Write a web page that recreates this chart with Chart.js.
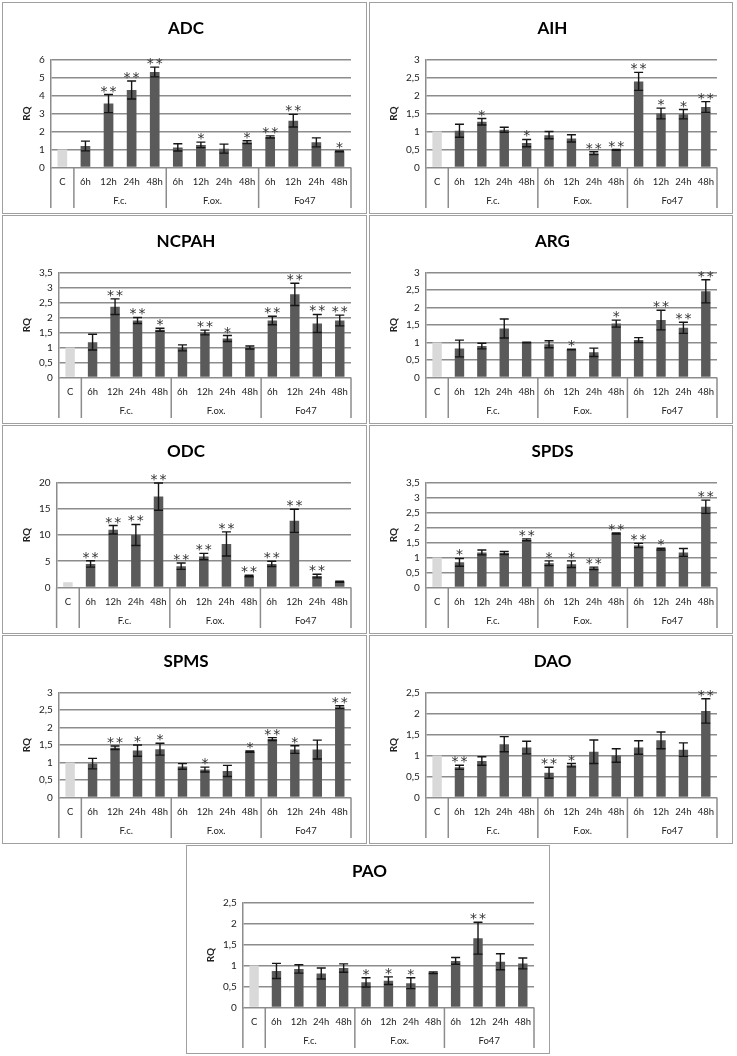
<!DOCTYPE html>
<html>
<head>
<meta charset="utf-8">
<script src="https://cdn.jsdelivr.net/npm/chart.js@4.4.1/dist/chart.umd.min.js"></script>
<style>
body { margin: 0; background: #fff; }
#page { position: relative; width: 737px; height: 1056px; }
.panel { position: absolute; border: 1.5px solid #a0a0a0; box-sizing: border-box; background: #fff; }
.panel canvas { display: block; }
</style>
</head>
<body>
<div id="page"></div>
<script>
// categories
const hours = ['C', '6h', '12h', '24h', '48h', '6h', '12h', '24h', '48h', '6h', '12h', '24h', '48h'];
const groups = ['F.c.', 'F.ox.', 'Fo47'];

// RQ means, error bars (null = none), significance marks
const adcRQ  = [1, 1.2, 3.55, 4.3, 5.3, 1.12, 1.26, 1.05, 1.41, 1.7, 2.6, 1.4, 0.9];
const adcErr = [null, 0.27, 0.5, 0.5, 0.27, 0.2, 0.15, 0.25, 0.08, 0.06, 0.35, 0.25, 0.03];
const adcSig = ['', '', '**', '**', '**', '', '*', '', '*', '**', '**', '', '*'];

const aihRQ  = [1, 1.02, 1.27, 1.05, 0.68, 0.9, 0.81, 0.4, 0.49, 2.39, 1.5, 1.48, 1.68];
const aihErr = [null, 0.18, 0.09, 0.07, 0.1, 0.1, 0.1, 0.04, 0.01, 0.25, 0.15, 0.13, 0.15];
const aihSig = ['', '', '*', '', '*', '', '', '**', '**', '**', '*', '*', '**'];

const ncpahRQ  = [1, 1.18, 2.36, 1.9, 1.59, 0.99, 1.5, 1.3, 1.0, 1.9, 2.77, 1.8, 1.9];
const ncpahErr = [null, 0.26, 0.26, 0.1, 0.05, 0.1, 0.08, 0.1, 0.05, 0.14, 0.37, 0.3, 0.18];
const ncpahSig = ['', '', '**', '**', '*', '', '**', '*', '', '**', '**', '**', '**'];

const argRQ  = [1, 0.83, 0.9, 1.4, 1.0, 0.95, 0.8, 0.72, 1.54, 1.07, 1.64, 1.42, 2.46];
const argErr = [null, 0.24, 0.08, 0.27, 0.01, 0.1, 0.01, 0.12, 0.1, 0.07, 0.28, 0.16, 0.33];
const argSig = ['', '', '', '', '', '', '*', '', '*', '', '**', '**', '**'];

const odcRQ  = [1, 4.5, 11.0, 10.0, 17.3, 4.07, 5.9, 8.3, 2.2, 4.5, 12.7, 2.2, 1.1];
const odcErr = [null, 0.6, 0.8, 2.0, 2.6, 0.6, 0.6, 2.3, 0.15, 0.5, 2.2, 0.35, 0.1];
const odcSig = ['', '**', '**', '**', '**', '**', '**', '**', '**', '**', '**', '**', ''];

const spdsRQ  = [1, 0.84, 1.17, 1.15, 1.59, 0.81, 0.78, 0.64, 1.8, 1.4, 1.28, 1.17, 2.69];
const spdsErr = [null, 0.13, 0.08, 0.05, 0.03, 0.08, 0.11, 0.04, 0.02, 0.07, 0.03, 0.13, 0.22];
const spdsSig = ['', '*', '', '', '**', '*', '*', '**', '**', '**', '*', '', '**'];

const spmsRQ  = [1, 0.97, 1.42, 1.34, 1.38, 0.89, 0.8, 0.76, 1.31, 1.67, 1.37, 1.37, 2.58];
const spmsErr = [null, 0.15, 0.05, 0.16, 0.17, 0.08, 0.07, 0.16, 0.02, 0.04, 0.11, 0.27, 0.04];
const spmsSig = ['', '', '**', '*', '*', '', '*', '', '*', '**', '*', '', '**'];

const daoRQ  = [1, 0.72, 0.87, 1.27, 1.19, 0.59, 0.77, 1.09, 1.0, 1.19, 1.36, 1.14, 2.06];
const daoErr = [null, 0.05, 0.1, 0.18, 0.15, 0.13, 0.04, 0.28, 0.16, 0.16, 0.2, 0.16, 0.29];
const daoSig = ['', '**', '', '', '', '**', '*', '', '', '', '', '', '**'];

const paoRQ  = [1, 0.87, 0.92, 0.81, 0.94, 0.6, 0.64, 0.58, 0.83, 1.11, 1.65, 1.09, 1.05];
const paoErr = [null, 0.18, 0.1, 0.13, 0.1, 0.11, 0.09, 0.13, 0.02, 0.08, 0.38, 0.19, 0.13];
const paoSig = ['', '', '', '', '', '*', '*', '*', '', '', '**', '', ''];

// panel layout
const panels = [
  { title: 'ADC',   rq: adcRQ,   err: adcErr,   sig: adcSig,   max: 6,   step: 1,   x: 2,   y: 2,   w: 365, h: 212 },
  { title: 'AIH',   rq: aihRQ,   err: aihErr,   sig: aihSig,   max: 3,   step: 0.5, x: 369, y: 2,   w: 364, h: 212 },
  { title: 'NCPAH', rq: ncpahRQ, err: ncpahErr, sig: ncpahSig, max: 3.5, step: 0.5, x: 2,   y: 215, w: 365, h: 209 },
  { title: 'ARG',   rq: argRQ,   err: argErr,   sig: argSig,   max: 3,   step: 0.5, x: 369, y: 215, w: 364, h: 209 },
  { title: 'ODC',   rq: odcRQ,   err: odcErr,   sig: odcSig,   max: 20,  step: 5,   x: 2,   y: 425, w: 365, h: 209 },
  { title: 'SPDS',  rq: spdsRQ,  err: spdsErr,  sig: spdsSig,  max: 3.5, step: 0.5, x: 369, y: 425, w: 364, h: 209 },
  { title: 'SPMS',  rq: spmsRQ,  err: spmsErr,  sig: spmsSig,  max: 3,   step: 0.5, x: 2,   y: 635, w: 365, h: 209 },
  { title: 'DAO',   rq: daoRQ,   err: daoErr,   sig: daoSig,   max: 2.5, step: 0.5, x: 369, y: 635, w: 364, h: 209 },
  { title: 'PAO',   rq: paoRQ,   err: paoErr,   sig: paoSig,   max: 2.5, step: 0.5, x: 186, y: 845, w: 364, h: 209 }
];

const FONT = 'Lato, "Open Sans", sans-serif';

// error bars, stars, group separators and labels
const extras = {
  id: 'extras',
  afterDatasetsDraw(chart, args, opts) {
    const { ctx, scales: { x, y } } = chart;
    const vals = chart.data.datasets[0].data;
    ctx.save();
    ctx.strokeStyle = '#151515';
    ctx.lineWidth = 1.4;
    ctx.fillStyle = '#333';
    ctx.font = '14px "DejaVu Sans"';
    ctx.textAlign = 'center';
    ctx.textBaseline = 'alphabetic';
    vals.forEach((v, i) => {
      const e = opts.err[i];
      const px = x.getPixelForValue(i);
      let top = y.getPixelForValue(v);
      if (e != null) {
        top = y.getPixelForValue(v + e);
        const bot = y.getPixelForValue(Math.max(v - e, 0));
        ctx.beginPath();
        ctx.moveTo(px, top); ctx.lineTo(px, bot);
        ctx.moveTo(px - 4.5, top); ctx.lineTo(px + 4.5, top);
        ctx.moveTo(px - 4.5, bot); ctx.lineTo(px + 4.5, bot);
        ctx.stroke();
      }
      const s = opts.sig[i];
      const sy = top + 1;
      if (s === '*') ctx.fillText('*', px, sy);
      if (s === '**') {
        ctx.fillText('*', px - 4.5, sy);
        ctx.fillText('*', px + 4.5, sy);
      }
    });
    ctx.restore();
  },
  afterDraw(chart) {
    const { ctx, chartArea, scales: { x } } = chart;
    const mid = (a, b) => (x.getPixelForValue(a) + x.getPixelForValue(b)) / 2;
    const bounds = [x.left, mid(0, 1), mid(4, 5), mid(8, 9), x.right];
    ctx.save();
    ctx.strokeStyle = '#8c8c8c';
    ctx.lineWidth = 1.5;
    bounds.forEach(b => {
      ctx.beginPath();
      ctx.moveTo(b, chartArea.bottom);
      ctx.lineTo(b, chart.height - 4);
      ctx.stroke();
    });
    ctx.fillStyle = '#222';
    ctx.font = '9.5px ' + FONT;
    ctx.textAlign = 'center';
    ctx.textBaseline = 'middle';
    groups.forEach((g, i) => {
      ctx.fillText(g, (bounds[i + 1] + bounds[i + 2]) / 2, chartArea.bottom + 33);
    });
    ctx.restore();
  }
};

const page = document.getElementById('page');
panels.forEach(p => {
  const box = document.createElement('div');
  box.className = 'panel';
  box.style.left = p.x + 'px';
  box.style.top = p.y + 'px';
  box.style.width = p.w + 'px';
  box.style.height = p.h + 'px';
  const cv = document.createElement('canvas');
  cv.width = p.w - 3;
  cv.height = p.h - 3;
  box.appendChild(cv);
  page.appendChild(box);

  new Chart(cv, {
    type: 'bar',
    data: {
      labels: hours,
      datasets: [{
        data: p.rq,
        backgroundColor: p.rq.map((_, i) => i === 0 ? '#d9d9d9' : '#5a5a5a'),
        barPercentage: 0.42,
        categoryPercentage: 1
      }]
    },
    options: {
      responsive: false,
      animation: false,
      layout: { padding: { left: 18, right: 14, top: 0, bottom: 23 } },
      plugins: {
        legend: { display: false },
        tooltip: { enabled: false },
        title: {
          display: true,
          text: p.title,
          color: '#000',
          font: { family: FONT, size: 17, weight: 'bold' },
          padding: { top: 15, bottom: 21 }
        },
        extras: { err: p.err, sig: p.sig }
      },
      scales: {
        x: {
          grid: { display: false },
          border: { display: false },
          ticks: { color: '#222', font: { family: FONT, size: 9.5 }, padding: 1, maxRotation: 0, autoSkip: false }
        },
        y: {
          min: 0,
          max: p.max,
          grid: { color: '#8c8c8c', lineWidth: 1.6, drawTicks: false },
          border: { color: '#8c8c8c', width: 1.5 },
          ticks: {
            stepSize: p.step,
            autoSkip: false,
            color: '#222',
            padding: 6,
            font: { family: FONT, size: 10 },
            callback: v => String(v).replace('.', ',')
          },
          title: { display: true, text: 'RQ', color: '#222', font: { family: FONT, size: 10, weight: 'bold' }, padding: 0 }
        }
      }
    },
    plugins: [extras]
  });
});
</script>
</body>
</html>
